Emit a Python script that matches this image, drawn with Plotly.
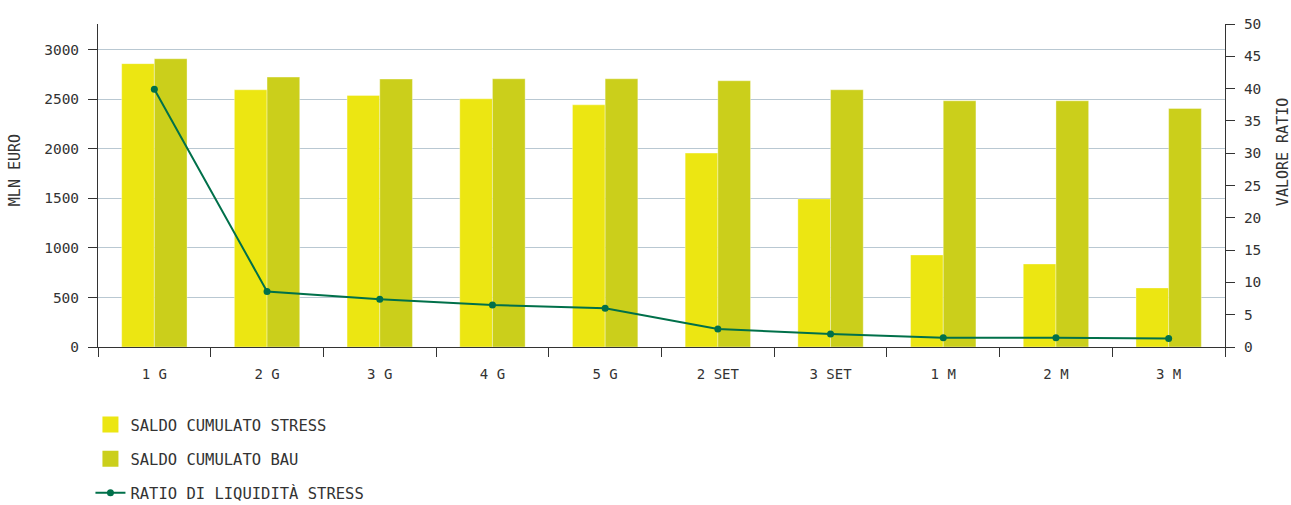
import plotly.graph_objects as go

categories = ["1 G", "2 G", "3 G", "4 G", "5 G", "2 SET", "3 SET", "1 M", "2 M", "3 M"]
saldo_stress = [2860, 2596, 2539, 2505, 2444, 1957, 1495, 929, 838, 596]
saldo_bau = [2909, 2724, 2704, 2707, 2707, 2687, 2596, 2485, 2485, 2407]
ratio_stress = [39.9, 8.6, 7.4, 6.5, 6.0, 2.8, 2.0, 1.45, 1.45, 1.3]

FONT = "DejaVu Sans Mono"
TXT = "#333333"
C_STRESS = "#ECE612"
C_BAU = "#CBCF1B"
C_RATIO = "#00704A"

fig = go.Figure()
fig.add_trace(go.Bar(
    x=categories, y=saldo_stress, name="SALDO CUMULATO STRESS",
    marker=dict(color=C_STRESS, line=dict(width=1, color="rgba(255,255,255,0.35)")),
    legendgroup="a", showlegend=False,
))
fig.add_trace(go.Bar(
    x=categories, y=saldo_bau, name="SALDO CUMULATO BAU",
    marker=dict(color=C_BAU, line=dict(width=1, color="rgba(255,255,255,0.35)")),
    legendgroup="b", showlegend=False,
))
fig.add_trace(go.Scatter(
    x=categories, y=ratio_stress, name="RATIO DI LIQUIDITÀ STRESS",
    yaxis="y2", mode="lines+markers",
    line=dict(color=C_RATIO, width=2),
    marker=dict(color=C_RATIO, size=7),
    legendgroup="c", showlegend=False,
))
# legend entries (square swatches like the reference)
fig.add_trace(go.Scatter(
    x=[None], y=[None], mode="markers", name="SALDO CUMULATO STRESS",
    marker=dict(symbol="square", size=16, color=C_STRESS), legendgroup="a",
))
fig.add_trace(go.Scatter(
    x=[None], y=[None], mode="markers", name="SALDO CUMULATO BAU",
    marker=dict(symbol="square", size=16, color=C_BAU), legendgroup="b",
))
fig.add_trace(go.Scatter(
    x=[None], y=[None], mode="lines+markers", name="RATIO DI LIQUIDITÀ STRESS",
    line=dict(color=C_RATIO, width=2), marker=dict(color=C_RATIO, size=7),
    legendgroup="c",
))

fig.update_layout(
    width=1291, height=505,
    margin=dict(l=98, r=66, t=24, b=158, autoexpand=False),
    paper_bgcolor="white", plot_bgcolor="white",
    barmode="group", bargap=0.42, bargroupgap=0,
    font=dict(family=FONT, color=TXT, size=14),
    showlegend=True,
    legend=dict(
        orientation="v", x=-0.0067, xanchor="left", y=-0.5046, yanchor="bottom",
        font=dict(family=FONT, size=15.5, color=TXT),
        tracegroupgap=11, itemsizing="trace", bgcolor="rgba(0,0,0,0)",
    ),
    xaxis=dict(
        range=[-0.5, 9.5],
        showline=True, linecolor="#333333", linewidth=1,
        ticks="outside", ticklen=9, tickcolor="#333333", tickson="boundaries",
        ticklabelstandoff=14,
        tickfont=dict(family=FONT, size=14, color=TXT),
        showgrid=False, fixedrange=True,
    ),
    yaxis=dict(
        range=[0, 3260], tickvals=[0, 500, 1000, 1500, 2000, 2500, 3000],
        showline=True, linecolor="#333333", linewidth=1,
        ticks="outside", ticklen=9, tickcolor="#333333",
        tickfont=dict(family=FONT, size=14.5, color=TXT),
        showgrid=True, gridcolor="#B9C8D2", gridwidth=1.2,
        zeroline=False, ticklabelstandoff=6,
    ),
    yaxis2=dict(
        overlaying="y", side="right", range=[0, 50],
        tickvals=[0, 5, 10, 15, 20, 25, 30, 35, 40, 45, 50],
        showline=True, linecolor="#333333", linewidth=1,
        ticks="outside", ticklen=9, tickcolor="#333333",
        tickfont=dict(family=FONT, size=14.5, color=TXT),
        showgrid=False, zeroline=False, ticklabelstandoff=6,
    ),
    annotations=[
        dict(text="MLN EURO", xref="paper", yref="paper", x=-0.0736, y=0.43,
             xanchor="center", yanchor="bottom", textangle=-90, showarrow=False,
             font=dict(family=FONT, size=15, color=TXT)),
        dict(text="VALORE RATIO", xref="paper", yref="paper", x=1.0515, y=0.43,
             xanchor="center", yanchor="bottom", textangle=-90, showarrow=False,
             font=dict(family=FONT, size=15, color=TXT)),
    ],
)

fig.write_html("out.html")
